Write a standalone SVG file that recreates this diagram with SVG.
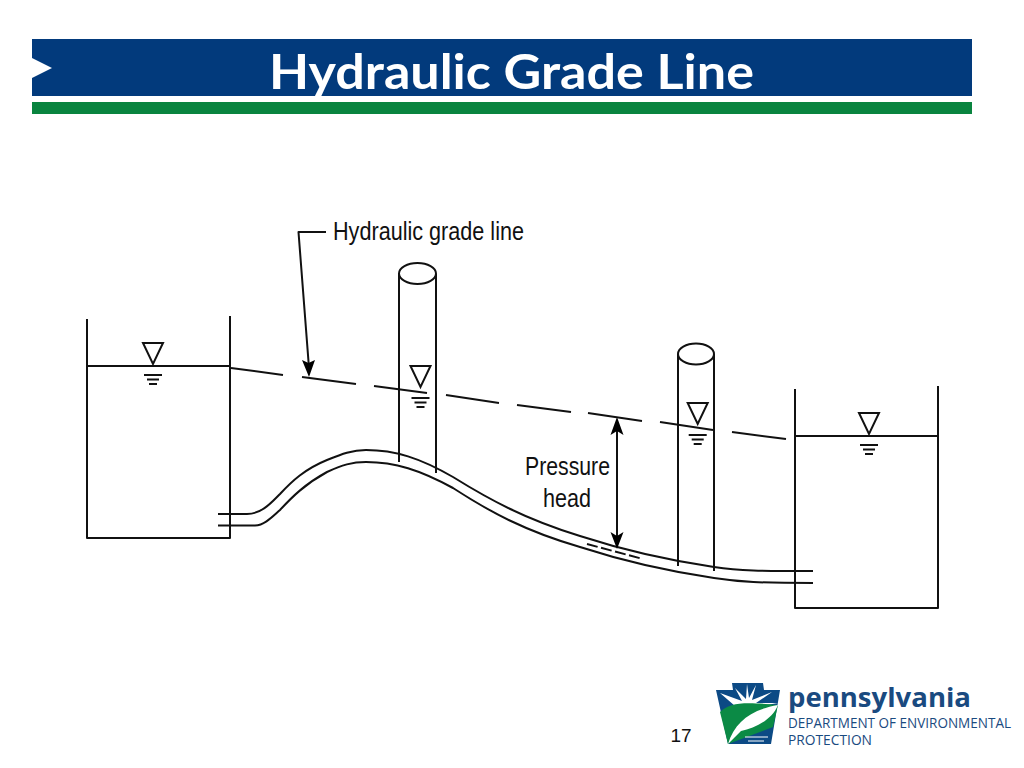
<svg xmlns="http://www.w3.org/2000/svg" width="1024" height="768" viewBox="0 0 1024 768">
<style>
.l{fill:none;stroke:#111;stroke-width:2;stroke-linejoin:round}
.t{fill:none;stroke:#111;stroke-width:2}
.lbl{font-family:"Liberation Sans",Arial,sans-serif;fill:#111}
.ah{fill:#000}
.logo{font-family:"Open Sans","Noto Sans",sans-serif;fill:#1a4a80}
</style>
<defs>
<g id="wl"><path class="t" d="M-10 0H10L0 21Z"/><path class="t" d="M-9 32H9M-6 36.500H6M-4 41H4"/></g>
</defs>
<rect width="1024" height="768" fill="#fff"/>
<g id="header">
<rect x="32" y="39" width="940" height="57" fill="#023a7c"/>
<rect x="32" y="102" width="940" height="12" fill="#09843f"/>
<path d="M32 58L52 68L32 78Z" fill="#fff"/>
<text x="269" y="89" font-family="Lato,'Open Sans',sans-serif" font-weight="700" font-size="48" fill="#fff" textLength="485" lengthAdjust="spacingAndGlyphs">Hydraulic Grade Line</text>
</g>
<g id="tank-left"><path class="l" d="M87 319V538H230V316M87 366H230"/><use href="#wl" x="153" y="343"/></g>
<g id="tank-right"><path class="l" d="M795 389V608H938V386M795 436H938"/><use href="#wl" x="869" y="413"/></g>
<g id="standpipe-1"><path class="l" d="M399 462V274M436 473V274"/><ellipse class="l" cx="417.500" cy="273.500" rx="18.500" ry="10.500" fill="#fff"/><use href="#wl" x="420.500" y="366"/></g>
<g id="standpipe-2"><path class="l" d="M678 566V354M714 571V354"/><ellipse class="l" cx="696" cy="354" rx="18" ry="10.500" fill="#fff"/><use href="#wl" x="697.700" y="403"/></g>
<g id="connectors">
<path class="l" d="M218 514H247C262 514 272 502 280 494C292 481 305 469 327 460C342 454 352 450 366 450C395 450 420 458 453 477C490 500 525 519 580 536C620 549 660 559 714 567C740 571 760 571 813 571"/>
<path class="l" d="M218 525.500H255C265 525 273 516 280 510C292 497 305 484 327 472C342 465 352 462 366 462C395 462 420 470 453 488C490 512 525 531 580 547C620 560 660 570 714 578C740 582 760 583 813 583"/>
<path class="l" d="M231 368L283 375M302 377L356 384M374 386L427 393M446 395L499 403M517 405L571 412M588 413L642 421M660 422L713 430M732 432L786 439"/>
<path class="l" d="M587 544L643 559" stroke-dasharray="11 3.500"/>
<path class="l" d="M326 232H298.500L309 368"/>
<path class="ah" d="M309 377L302 360L308.500 363L315 360Z"/>
<path class="l" d="M617 425V540"/>
<path class="ah" d="M617 417L610.500 435L617 431L623.500 435Z"/>
<path class="ah" d="M617 549L610.500 532L617 536L623.500 532Z"/>
</g>
<g id="labels" class="lbl">
<text x="333" y="240" font-size="25" textLength="191" lengthAdjust="spacingAndGlyphs">Hydraulic grade line</text>
<text x="525" y="475" font-size="25" textLength="85" lengthAdjust="spacingAndGlyphs">Pressure</text>
<text x="543" y="507" font-size="25" textLength="48" lengthAdjust="spacingAndGlyphs">head</text>
<text x="681" y="742" font-size="19" text-anchor="middle">17</text>
</g>
<g id="logo">
<path d="M732 683H763L764 690H780L771 744H728L716 690H733Z" fill="#0c4a85"/>
<path d="M747 684L749 698L756 685L752 700L772 692L756 703L778 703L760 706L735 706L720 693L742 701L735 688L746 699Z" fill="#fff"/>
<path d="M720 712C730 702 745 702 778 705L773 727L728 744Z" fill="#0b8a45"/>
<path d="M728 744C735 722 750 710 778 705C772 720 755 728 741 731Z" fill="#fff"/>
<path d="M745 737H768M748 741H764" stroke="#fff" stroke-width="1" fill="none"/>
<text class="logo" x="788" y="707" font-weight="700" font-size="27" fill="#103d76" textLength="183" lengthAdjust="spacingAndGlyphs">pennsylvania</text>
<text class="logo" x="788" y="728" font-size="14" textLength="223" lengthAdjust="spacingAndGlyphs">DEPARTMENT OF ENVIRONMENTAL</text>
<text class="logo" x="788" y="745" font-size="14" textLength="84" lengthAdjust="spacingAndGlyphs">PROTECTION</text>
</g>
</svg>
